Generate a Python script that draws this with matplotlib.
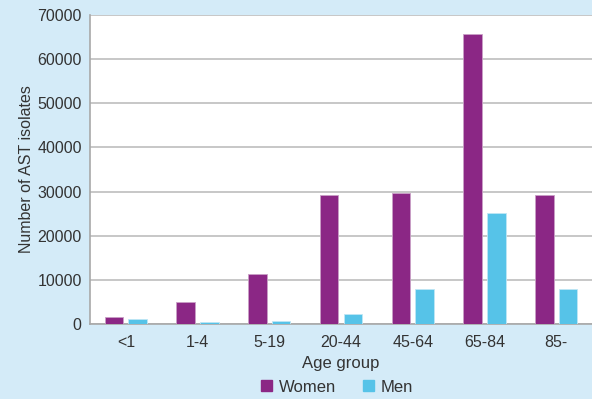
import numpy as np
import matplotlib.pyplot as plt
from matplotlib.patches import Patch

# Data
age_groups = ['<1', '1-4', '5-19', '20-44', '45-64', '65-84', '85-']
women = [1600, 5000, 11300, 29300, 29700, 65700, 29300]
men = [1150, 450, 600, 2300, 8000, 25200, 8000]

purple = '#8B2785'
blue = '#56C3E8'
bg = '#D4EBF8'
text_col = '#333333'

plt.rcParams['font.family'] = ['Liberation Sans', 'DejaVu Sans']

fig = plt.figure(figsize=(5.92, 3.99), dpi=100, facecolor=bg)
ax = fig.add_axes([90 / 592, 1 - 324 / 399, 502 / 592, 309 / 399])
ax.set_facecolor('white')

x = np.arange(len(age_groups))
w = 0.26
ax.bar(x - 0.165, women, width=w, color=purple, edgecolor='#C9A0C6', linewidth=0.6, zorder=3)
ax.bar(x + 0.165, men, width=w, color=blue, edgecolor='#BFE6F5', linewidth=0.6, zorder=3)

ax.set_xlim(-0.5, len(age_groups) - 0.5)
ax.set_ylim(0, 70000)
ax.set_yticks(range(0, 70001, 10000))
ax.set_xticks(x)
ax.set_xticklabels(age_groups)
ax.yaxis.grid(True, color='#BDBDBD', linewidth=1.2, zorder=0)
ax.tick_params(axis='both', length=0, labelsize=11.5, colors=text_col)
ax.tick_params(axis='x', pad=8)
ax.tick_params(axis='y', pad=6)

for side in ['top', 'right']:
    ax.spines[side].set_visible(False)
for side in ['left', 'bottom']:
    ax.spines[side].set_color('#A8A8A8')
    ax.spines[side].set_linewidth(1.2)

ax.set_xlabel('Age group', fontsize=12, color=text_col, labelpad=4)
ax.set_ylabel('Number of AST isolates', fontsize=11.5, color=text_col, labelpad=2)

handles = [Patch(color=purple, label='Women'), Patch(color=blue, label='Men')]
fig.legend(handles=handles, loc='center', bbox_to_anchor=(337 / 592, 1 - 387 / 399),
           ncol=2, frameon=False, fontsize=12, handlelength=0.66, handleheight=0.66,
           handletextpad=0.42, columnspacing=1.6, labelcolor=text_col)

plt.savefig('out.png', dpi=100, facecolor=bg)
